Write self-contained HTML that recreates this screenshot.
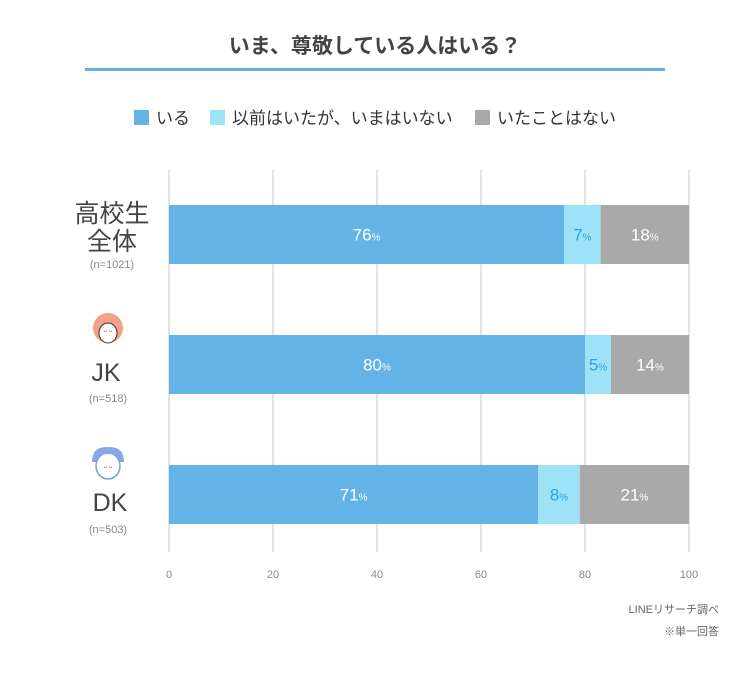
<!DOCTYPE html>
<html><head><meta charset="utf-8"><style>
body{margin:0;background:#fff;font-family:"Liberation Sans","Noto Sans CJK JP",sans-serif;}
svg text{font-family:"Liberation Sans","Noto Sans CJK JP",sans-serif;}
</style></head><body>
<svg id="chart" width="750" height="671">
<text x="375" y="53" text-anchor="middle" font-size="21" font-weight="bold" fill="#444">いま、尊敬している人はいる？</text>
<rect x="85" y="68" width="580" height="3" fill="#63b0e3"/>
<g>
<g><rect x="134" y="110" width="15" height="15" fill="#63b3e6"/><text x="156" y="124" font-size="17" fill="#333">いる</text></g>
<g><rect x="210" y="110" width="15" height="15" fill="#9ee2f8"/><text x="232" y="124" font-size="17" fill="#333">以前はいたが、いまはいない</text></g>
<g><rect x="475" y="110" width="15" height="15" fill="#a9a9a9"/><text x="497" y="124" font-size="17" fill="#333">いたことはない</text></g>
</g>
<g id="grid"></g><g id="bars"></g><g id="ticks"></g>
<g fill="#444">
<text x="112" y="222" text-anchor="middle" font-size="25">高校生</text>
<text x="112" y="250" text-anchor="middle" font-size="25">全体</text>
<text x="112" y="268" text-anchor="middle" font-size="11" fill="#888">(n=1021)</text>
<g><circle cx="108" cy="328" r="15" fill="#f5a088"/><ellipse cx="108" cy="333" rx="9" ry="10" fill="#fff" stroke="#333" stroke-width="1"/><text x="108" y="334" text-anchor="middle" font-size="8" fill="#333">ᵕ ᵕ</text></g>
<text x="106" y="381" text-anchor="middle" font-size="25">JK</text>
<text x="108" y="402" text-anchor="middle" font-size="11" fill="#888">(n=518)</text>
<g><path d="M92 462 Q92 446 108 447 Q124 446 124 462 L121 462 L95 462Z" fill="#8aa8e6"/><ellipse cx="108" cy="466" rx="12" ry="13" fill="#fff" stroke="#7b9ce0" stroke-width="1.5"/><path d="M95 458 Q108 450 121 458 L121 455 Q108 446 95 455Z" fill="#8aa8e6"/><text x="108" y="470" text-anchor="middle" font-size="8" fill="#333">ᵕ ᵕ</text></g>
<text x="110" y="511" text-anchor="middle" font-size="25">DK</text>
<text x="108" y="533" text-anchor="middle" font-size="11" fill="#888">(n=503)</text>
</g>
<text x="719" y="613" text-anchor="end" font-size="11" fill="#666">LINEリサーチ調べ</text>
<text x="719" y="635" text-anchor="end" font-size="11" fill="#666">※単一回答</text>
</svg>
<script>
const categories=["高校生全体","JK","DK"];
const iru=[76,80,71];
const mae=[7,5,8];
const nai=[18,14,21];
const tickValues=[0,20,40,60,80,100];
const ns="http://www.w3.org/2000/svg";
const x=v=>169+v*5.2;
const rowY=i=>205+i*130;
const bh=59;
function mk(tag,attrs,parent){const e=document.createElementNS(ns,tag);for(const k in attrs)e.setAttribute(k,attrs[k]);parent.appendChild(e);return e;}
const grid=document.getElementById('grid'),bars=document.getElementById('bars'),ticks=document.getElementById('ticks');
tickValues.forEach(t=>{
 const l=mk('line',{x1:x(t),x2:x(t),y1:170,y2:552,stroke:'#e3e3e3','stroke-width':2},grid);
 
 
 const tx=mk('text',{x:x(t),y:578,'text-anchor':'middle','font-size':11,fill:'#888'},ticks);
 tx.textContent=t;
 
 
});
const series=[{v:iru,c:'#63b3e6',tc:'#fff',n:'iru'},{v:mae,c:'#9ee2f8',tc:'#2aa3e0',n:'mae'},{v:nai,c:'#a9a9a9',tc:'#fff',n:'nai'}];
categories.forEach((cat,i)=>{
 let cum=0;
 series.forEach((s,si)=>{
  const v=s.v[i];
  let end=Math.min(100,cum+v);
  if(si===series.length-1)end=100;
  const r=mk('rect',{x:x(cum),y:rowY(i),width:Math.max(0,x(end)-x(cum)),height:bh,fill:s.c},bars);
  
  
  const t=mk('text',{x:(x(cum)+x(end))/2,y:rowY(i)+bh/2+6,'text-anchor':'middle','font-size':17,fill:s.tc},bars);
  t.innerHTML=v+'<tspan font-size="10">%</tspan>';
  
  
  cum=end;
 });
});
</script>
</body></html>
